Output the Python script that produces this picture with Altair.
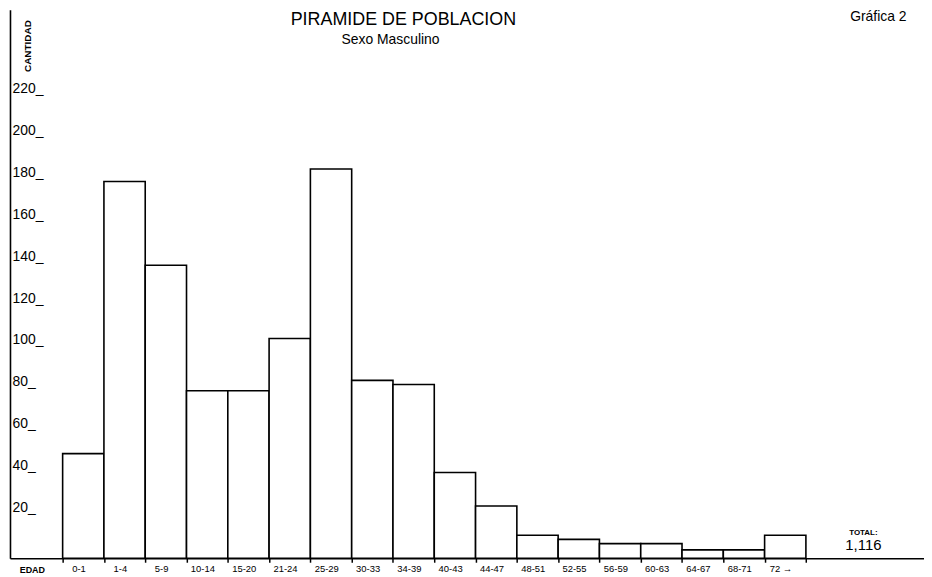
import altair as alt
import pandas as pd

# ---- data ----
age_groups = ["0-1", "1-4", "5-9", "10-14", "15-20", "21-24", "25-29", "30-33",
              "34-39", "40-43", "44-47", "48-51", "52-55", "56-59", "60-63",
              "64-67", "68-71", "72 →"]
counts = [50, 180, 140, 80, 80, 105, 186, 85, 83, 41, 25, 11, 9, 7, 7, 4, 4, 11]
y_ticks = [20, 40, 60, 80, 100, 120, 140, 160, 180, 200, 220]
title_text = ["PIRAMIDE DE POBLACION"]
subtitle_text = ["Sexo Masculino"]
corner_text = ["Gráfica 2"]
total_label = ["TOTAL:"]
total_value = ["1,116"]

FONT = "Liberation Sans"
W, H = 920, 552

df = pd.DataFrame({
    "edad": age_groups,
    "cantidad": counts,
    "start": list(range(len(age_groups))),
    "end": [i + 1 for i in range(len(age_groups))],
})

js_labels = "[" + ",".join("'" + s + "'" for s in age_groups) + "]"

x_scale = alt.Scale(domain=[-1.275, 20.86], nice=False, zero=False)
y_scale = alt.Scale(domain=[0, 262], nice=False)

bars = alt.Chart(df).mark_rect(
    fill="white", stroke="black", strokeWidth=1.6
).encode(
    x=alt.X("start:Q", scale=x_scale, axis=alt.Axis(
        values=list(range(len(age_groups) + 1)),
        labelExpr=js_labels + "[datum.value] || ''",
        labelOffset=16, labelAlign="center", labelFontSize=9.5,
        labelColor="black", labelFont=FONT, labelPadding=1,
        ticks=True, tickSize=4, tickColor="black", tickWidth=1.5,
        domainColor="black", domainWidth=1.6, grid=False,
        title="EDAD", titleX=22, titleY=11, titleAlign="center",
        titleBaseline="middle", titleFontSize=9, titleFontWeight="bold",
        titleFont=FONT, titleColor="black", labelOverlap=False,
    )),
    x2="end:Q",
    y=alt.Y("cantidad:Q", scale=y_scale, axis=alt.Axis(
        values=y_ticks,
        labelExpr="datum.label + '_'",
        labelAlign="left", labelPadding=-2, labelBaseline="alphabetic",
        labelOffset=-5, labelFontSize=14, labelColor="black", labelFont=FONT,
        ticks=False, tickSize=0, grid=False,
        domainColor="black", domainWidth=1.6,
        title="CANTIDAD", titleX=18, titleY=36, titleAngle=-90,
        titleAlign="center", titleBaseline="middle", titleFontSize=10,
        titleFontWeight="bold", titleFont=FONT, titleColor="black",
    )),
    y2=alt.datum(0),
)

def note(values, x, y, size, weight="normal", baseline="middle"):
    return alt.Chart(pd.DataFrame({"t": values})).mark_text(
        font=FONT, fontSize=size, fontWeight=weight, color="black",
        align="center", baseline=baseline,
    ).encode(x=alt.value(x), y=alt.value(y), text="t:N")

chart = alt.layer(
    bars,
    note(title_text, 396, 10, 18),
    note(subtitle_text, 383, 30, 14),
    note(corner_text, 874, 11, 14, baseline="alphabetic"),
    note(total_label, 859, 527, 8, weight="bold"),
    note(total_value, 859, 539, 15),
).properties(
    width=W, height=H,
    autosize=alt.AutoSizeParams(type="none"),
    padding={"left": 2, "top": 0, "right": 0, "bottom": 14},
    background="white",
).configure_view(stroke=None)

chart.save("out.html", embed_options={"renderer": "svg", "actions": False})
